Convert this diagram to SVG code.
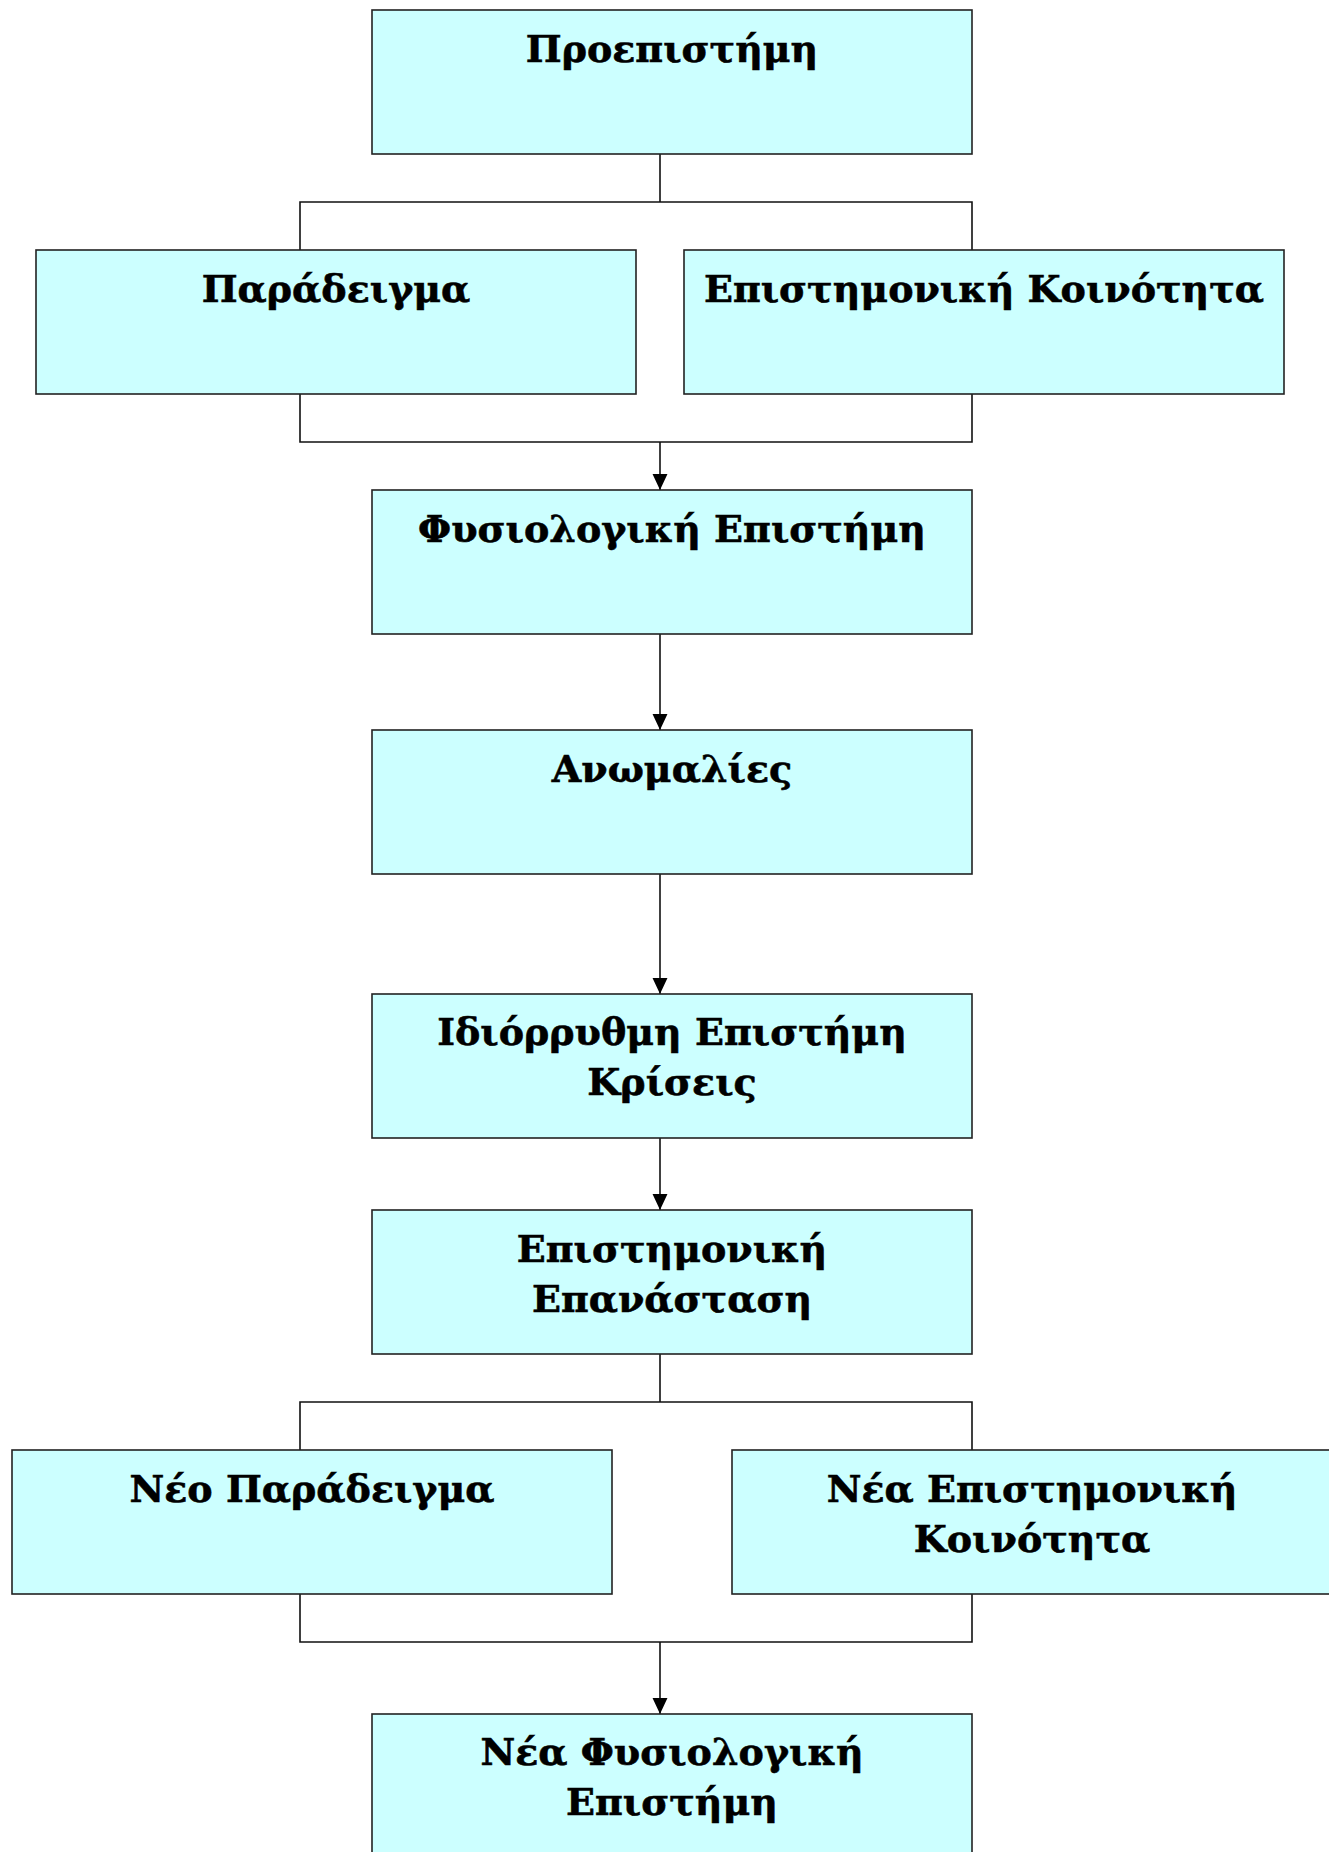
<svg xmlns="http://www.w3.org/2000/svg" width="1329" height="1852" viewBox="0 0 1329 1852">
<style>
.box{fill:#CCFFFF;stroke:#222;stroke-width:1.6}
.lbl{font-family:"DejaVu Serif","Liberation Serif",serif;font-weight:bold;font-size:38px;fill:#000;text-anchor:middle;stroke:#000;stroke-width:0.6}
.con{fill:none;stroke:#111;stroke-width:1.6}
</style>
<defs>
<marker id="arr" markerUnits="userSpaceOnUse" markerWidth="16" markerHeight="16" refX="15" refY="7" orient="auto" viewBox="0 0 15 14">
<path d="M0,0 L15,7 L0,14 Z" fill="#000"/>
</marker>
</defs>
<rect width="1329" height="1852" fill="#fff"/>
<g id="connectors">
<path class="con" d="M660,154 V202 M300,250 V202 H972 V250"/>
<path class="con" d="M300,394 V442 H972 V394"/>
<path class="con" d="M660,442 V490" marker-end="url(#arr)"/>
<path class="con" d="M660,634 V730" marker-end="url(#arr)"/>
<path class="con" d="M660,874 V994" marker-end="url(#arr)"/>
<path class="con" d="M660,1138 V1210" marker-end="url(#arr)"/>
<path class="con" d="M660,1354 V1402 M300,1450 V1402 H972 V1450"/>
<path class="con" d="M300,1594 V1642 H972 V1594"/>
<path class="con" d="M660,1642 V1714" marker-end="url(#arr)"/>
</g>
<g id="n1"><rect class="box" x="372" y="10" width="600" height="144"/><text class="lbl" x="672" y="62">Προεπιστήμη</text></g>
<g id="n2"><rect class="box" x="36" y="250" width="600" height="144"/><text class="lbl" x="336" y="302">Παράδειγμα</text></g>
<g id="n3"><rect class="box" x="684" y="250" width="600" height="144"/><text class="lbl" x="984" y="302">Επιστημονική Κοινότητα</text></g>
<g id="n4"><rect class="box" x="372" y="490" width="600" height="144"/><text class="lbl" x="672" y="542">Φυσιολογική Επιστήμη</text></g>
<g id="n5"><rect class="box" x="372" y="730" width="600" height="144"/><text class="lbl" x="672" y="782">Ανωμαλίες</text></g>
<g id="n6"><rect class="box" x="372" y="994" width="600" height="144"/><text class="lbl" x="672" y="1045">Ιδιόρρυθμη Επιστήμη</text><text class="lbl" x="672" y="1095">Κρίσεις</text></g>
<g id="n7"><rect class="box" x="372" y="1210" width="600" height="144"/><text class="lbl" x="672" y="1262">Επιστημονική</text><text class="lbl" x="672" y="1312">Επανάσταση</text></g>
<g id="n8"><rect class="box" x="12" y="1450" width="600" height="144"/><text class="lbl" x="312" y="1502">Νέο Παράδειγμα</text></g>
<g id="n9"><rect class="box" x="732" y="1450" width="600" height="144"/><text class="lbl" x="1032" y="1502">Νέα Επιστημονική</text><text class="lbl" x="1032" y="1552">Κοινότητα</text></g>
<g id="n10"><rect class="box" x="372" y="1714" width="600" height="144"/><text class="lbl" x="672" y="1765">Νέα Φυσιολογική</text><text class="lbl" x="672" y="1815">Επιστήμη</text></g>
</svg>
